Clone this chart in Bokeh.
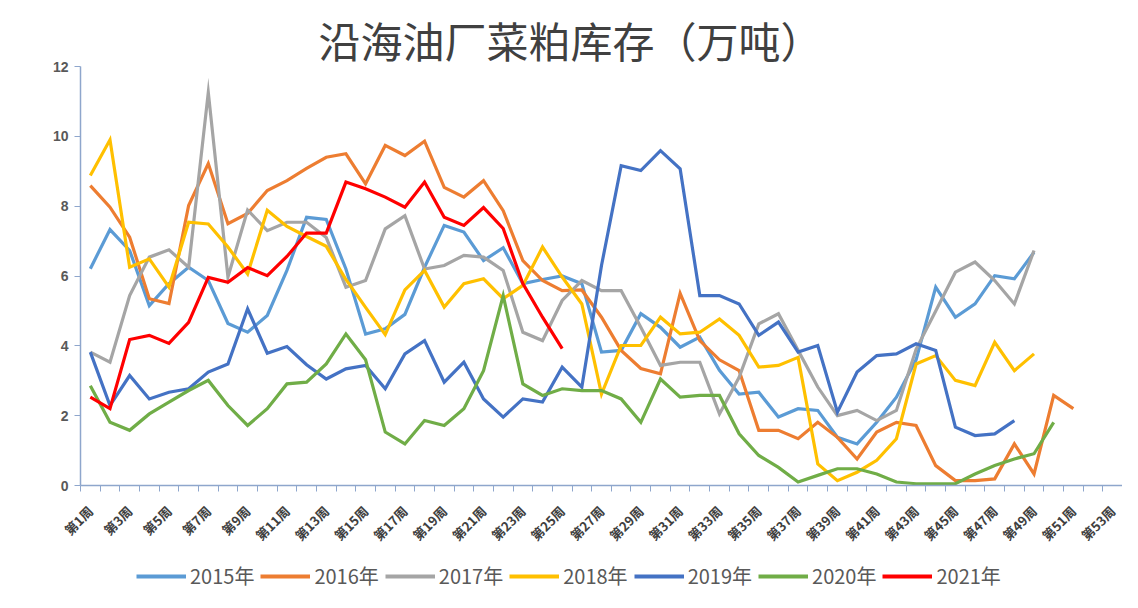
import math
from bokeh.plotting import figure
from bokeh.layouts import column
from bokeh.models import FixedTicker, Legend, LegendItem, Range1d
from bokeh.embed import file_html
from bokeh.resources import INLINE

title_text = "沿海油厂菜粕库存（万吨）"
years = ["2015年", "2016年", "2017年", "2018年", "2019年", "2020年", "2021年"]
colors = ["#5B9BD5", "#ED7D31", "#A5A5A5", "#FFC000", "#4472C4", "#70AD47", "#FF0000"]

weeks = list(range(1, 54))
tick_weeks = list(range(1, 54, 2))
tick_labels = [f"第{w}周" for w in tick_weeks]
y_ticks = [0, 2, 4, 6, 8, 10, 12]

s2015 = [6.21, 7.33, 6.73, 5.15, 5.78, 6.25, 5.87, 4.64, 4.39, 4.87, 6.16, 7.68, 7.62, 6.2, 4.34,
         4.49, 4.9, 6.25, 7.45, 7.26, 6.44, 6.81, 5.78, 5.9, 6.0, 5.78, 3.82, 3.87, 4.92, 4.53,
         3.96, 4.25, 3.3, 2.62, 2.67, 1.96, 2.2, 2.15, 1.38, 1.19, 1.81, 2.53, 3.6, 5.68, 4.82,
         5.2, 6.01, 5.92, 6.68]
s2016 = [8.59, 7.97, 7.11, 5.35, 5.21, 8.02, 9.22, 7.5, 7.79, 8.45, 8.73, 9.08, 9.4, 9.5, 8.64,
         9.74, 9.45, 9.86, 8.54, 8.26, 8.73, 7.87, 6.44, 5.87, 5.58, 5.6, 4.82, 3.87, 3.35, 3.2,
         5.5, 4.15, 3.6, 3.29, 1.58, 1.58, 1.34, 1.81, 1.38, 0.76, 1.53, 1.81, 1.72, 0.57, 0.14,
         0.14, 0.19, 1.19, 0.33, 2.58, 2.2]
s2017 = [3.82, 3.53, 5.44, 6.54, 6.75, 6.25, 11.26, 5.97, 7.89, 7.3, 7.54, 7.54, 7.1, 5.68, 5.87,
         7.35, 7.73, 6.2, 6.3, 6.59, 6.54, 6.16, 4.39, 4.15, 5.3, 5.87, 5.58, 5.58, 4.53, 3.44,
         3.53, 3.53, 2.05, 3.1, 4.63, 4.92, 3.87, 2.82, 2.0, 2.15, 1.86, 2.15, 3.9, 5.0, 6.11,
         6.4, 5.87, 5.2, 6.73]
s2018 = [8.88, 9.9, 6.25, 6.49, 5.68, 7.54, 7.49, 6.83, 6.06, 7.88, 7.42, 7.13, 6.85, 5.9, 5.1,
         4.32, 5.6, 6.16, 5.11, 5.78, 5.92, 5.35, 5.73, 6.83, 5.97, 5.2, 2.62, 4.01, 4.01, 4.82,
         4.34, 4.39, 4.77, 4.3, 3.39, 3.44, 3.67, 0.62, 0.14, 0.38, 0.72, 1.34, 3.48, 3.72, 3.01,
         2.86, 4.1, 3.29, 3.77]
s2019 = [3.82, 2.29, 3.15, 2.48, 2.67, 2.77, 3.25, 3.48, 5.06, 3.79, 3.98, 3.46, 3.05, 3.34, 3.44,
         2.77, 3.77, 4.15, 2.96, 3.53, 2.48, 1.96, 2.48, 2.39, 3.39, 2.82, 6.3, 9.16, 9.02, 9.59,
         9.07, 5.44, 5.44, 5.2, 4.3, 4.68, 3.82, 4.01, 2.1, 3.25, 3.72, 3.77, 4.06, 3.87, 1.67,
         1.43, 1.48, 1.86]
s2020 = [2.86, 1.81, 1.58, 2.05, 2.39, 2.72, 3.01, 2.29, 1.72, 2.2, 2.91, 2.96, 3.48, 4.34, 3.6,
         1.53, 1.19, 1.86, 1.72, 2.2, 3.29, 5.44, 2.91, 2.58, 2.77, 2.72, 2.72, 2.48, 1.81, 3.05,
         2.53, 2.58, 2.58, 1.48, 0.86, 0.52, 0.1, 0.29, 0.48, 0.48, 0.33, 0.1, 0.05, 0.05, 0.05,
         0.33, 0.57, 0.76, 0.91, 1.81]
s2021 = [2.53, 2.2, 4.18, 4.3, 4.07, 4.67, 5.96, 5.82, 6.24, 6.01, 6.56, 7.23, 7.23, 8.69, 8.5,
         8.26, 7.97, 8.69, 7.68, 7.45, 7.96, 7.36, 5.78, 4.82, 3.92]

series = [s2015, s2016, s2017, s2018, s2019, s2020, s2021]

CJK = "Noto Sans CJK SC"

p = figure(width=1122, height=556, output_backend="svg", toolbar_location=None,
           x_range=Range1d(0.5, 53.5), y_range=Range1d(0, 12),
           min_border_left=80, min_border_right=0, min_border_top=66, min_border_bottom=71)
p.outline_line_color = None
p.xgrid.visible = False
p.ygrid.visible = False

p.title.text = title_text
p.title.align = "left"
p.title.text_font = CJK
p.title.text_font_size = "42px"
p.title.text_font_style = "normal"
p.title.text_color = "#404040"
p.title.offset = 238
p.title.standoff = -6

axis_color = "#8EA6CC"
p.xaxis.ticker = FixedTicker(ticks=tick_weeks, minor_ticks=[w + 0.5 for w in range(0, 54)])
p.xaxis.major_label_overrides = {w: l for w, l in zip(tick_weeks, tick_labels)}
p.xaxis.major_label_orientation = math.pi / 4
p.xaxis.major_label_text_font = CJK
p.xaxis.major_label_text_font_style = "bold"
p.xaxis.major_label_text_font_size = "13px"
p.xaxis.major_label_text_color = "#404040"
p.xaxis.major_label_standoff = 17
p.xaxis.major_tick_out = 0
p.xaxis.major_tick_in = 0
p.xaxis.minor_tick_out = 6
p.xaxis.minor_tick_in = 0
p.xaxis.axis_line_color = axis_color
p.xaxis.minor_tick_line_color = axis_color
p.xaxis.axis_line_width = 1.5

p.yaxis.ticker = FixedTicker(ticks=y_ticks, minor_ticks=[])
p.yaxis.major_label_text_font = "Liberation Sans"
p.yaxis.major_label_text_font_style = "bold"
p.yaxis.major_label_text_font_size = "14px"
p.yaxis.major_label_text_color = "#595959"
p.yaxis.major_tick_out = 6
p.yaxis.major_tick_in = 0
p.yaxis.major_tick_line_color = axis_color
p.yaxis.axis_line_color = axis_color
p.yaxis.axis_line_width = 1.5
p.yaxis.major_label_standoff = 6

for name, col, vals in zip(years, colors, series):
    p.line(weeks[:len(vals)], vals, line_color=col, line_width=3.2, line_join="miter")

# legend strip under the chart (its frame is aligned with the chart frame by the column)
lg = figure(width=1122, height=36, output_backend="svg", toolbar_location=None,
            x_range=Range1d(0, 1), y_range=Range1d(0, 1),
            min_border_left=0, min_border_right=0, min_border_top=0, min_border_bottom=0)
lg.outline_line_color = None
lg.axis.visible = False
lg.xgrid.visible = False
lg.ygrid.visible = False
items = []
for name, col in zip(years, colors):
    # proxy renderer placed outside the visible range: only its legend swatch shows
    r = lg.line([-5, -4], [-5, -5], line_color=col, line_width=4)
    items.append(LegendItem(label=name, renderers=[r]))
legend = Legend(items=items, orientation="horizontal", location=(56, 2),
                glyph_width=50, glyph_height=22, label_standoff=4, spacing=6,
                padding=0, margin=0, border_line_color=None, background_fill_alpha=0,
                label_text_font=CJK, label_text_font_size="20px", label_text_color="#595959")
lg.add_layout(legend, "center")

layout = column(p, lg, spacing=0)
open("out.html", "w").write(file_html(layout, INLINE))
